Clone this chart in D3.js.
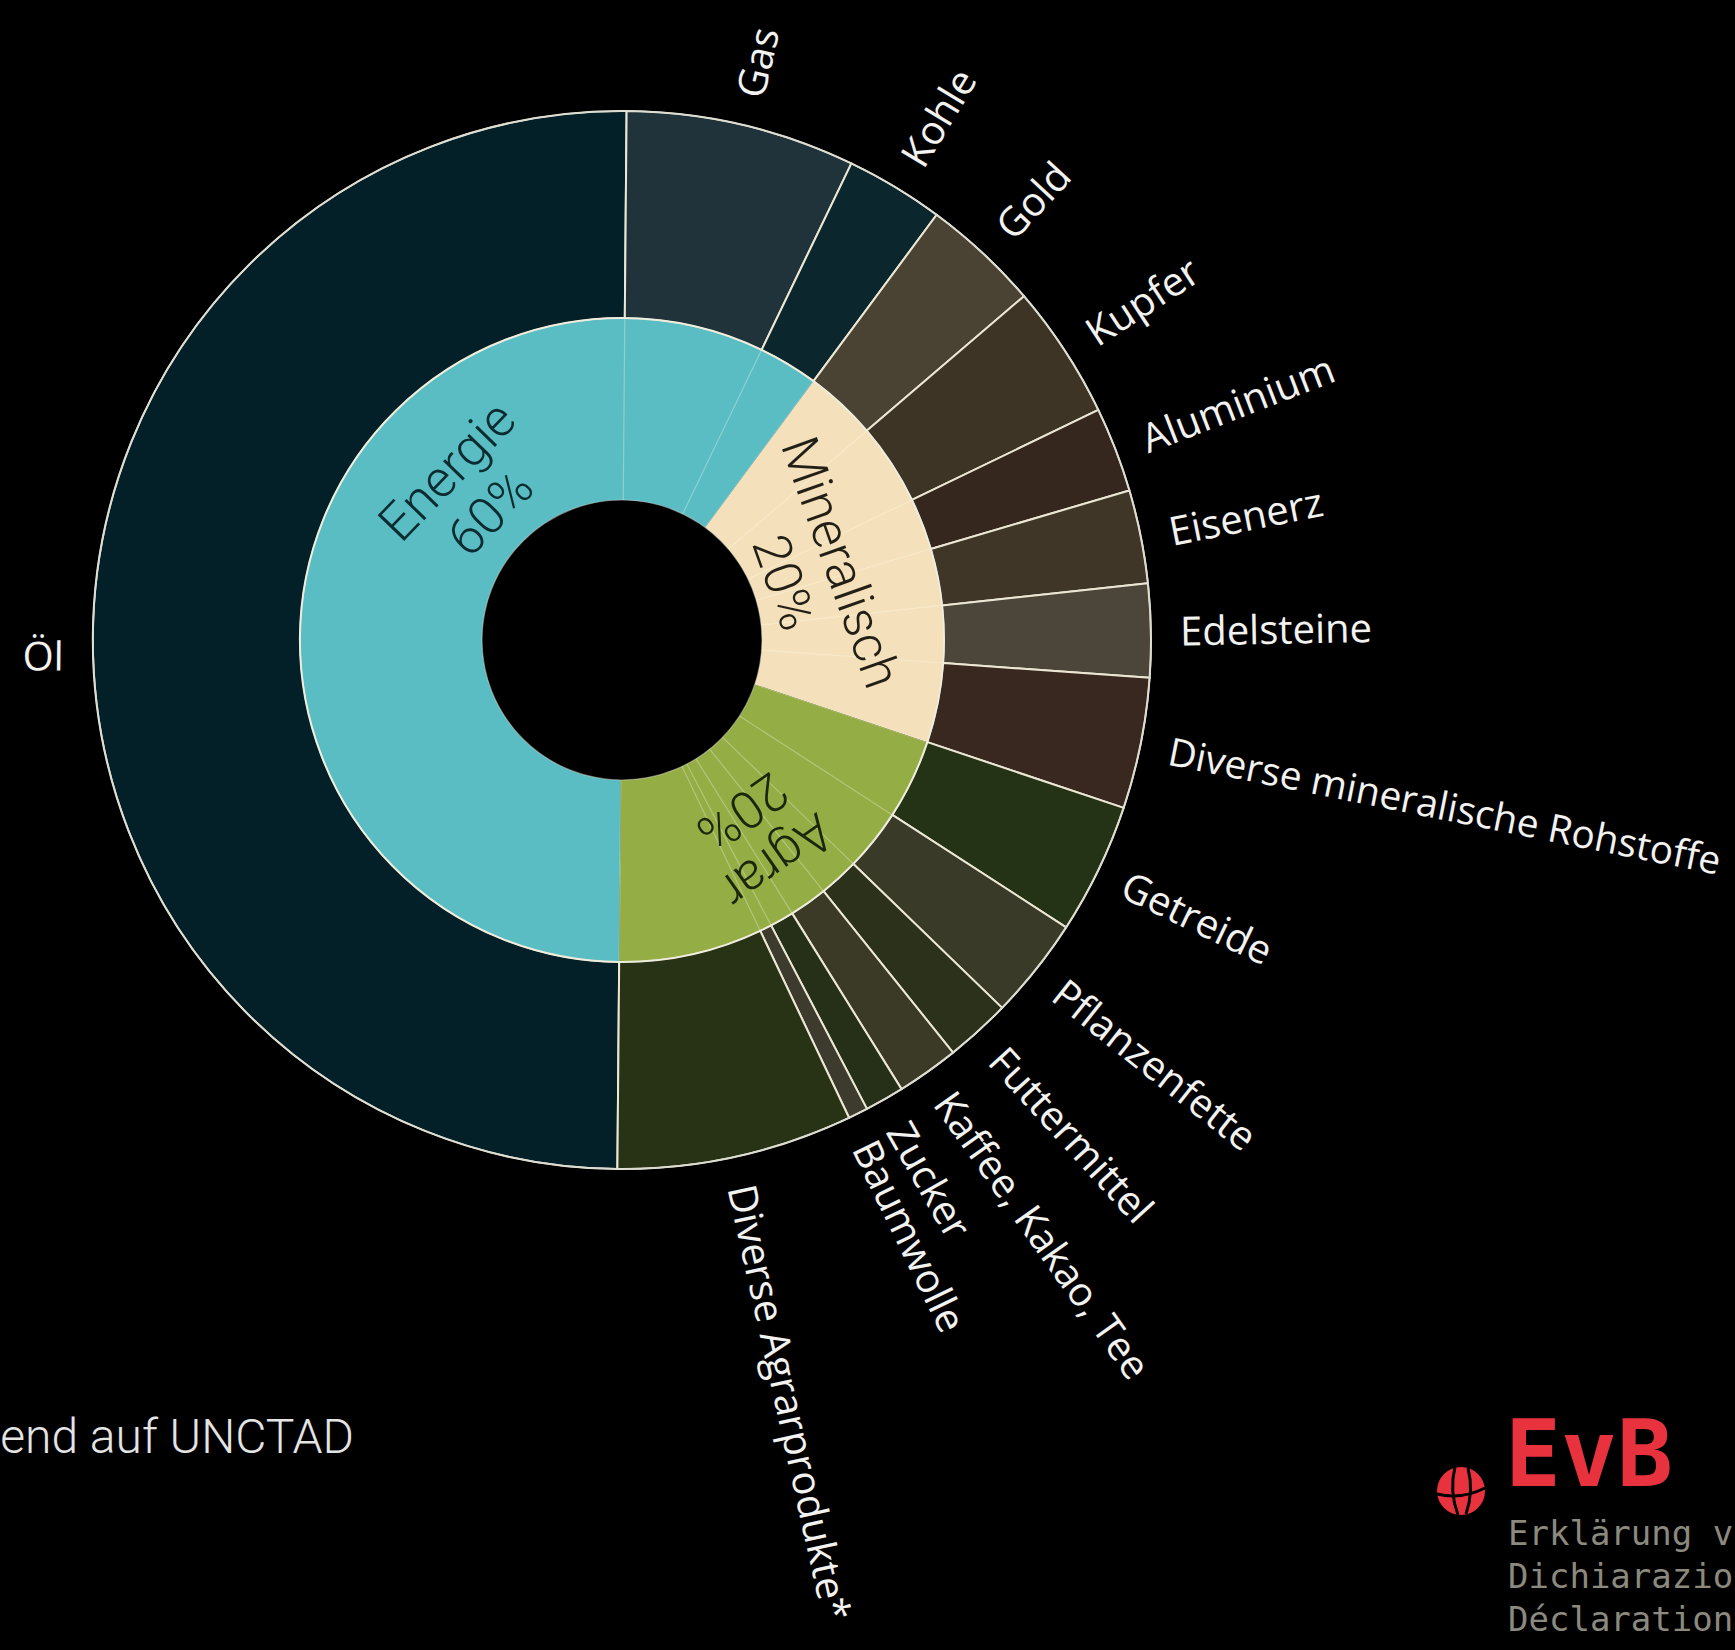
<!DOCTYPE html>
<html>
<head>
<meta charset="utf-8">
<script src="https://cdn.jsdelivr.net/npm/d3@7"></script>
<style>
  html, body { margin: 0; padding: 0; background: #000; }
  svg { display: block; }
</style>
</head>
<body>
<svg id="chart" width="1735" height="1650"></svg>
<script>
// Inner ring: commodity groups, share of commodity exports in %
const groups = ["Energie", "Mineralisch", "Agrar"];
const groupShares = [60, 20, 20];
const groupColors = ["#5bbdc4", "#f4e1bb", "#95ad45"];
const groupTextColors = ["#0a2c30", "#221f17", "#1b260b"];

// Outer ring: single commodities, share in %
const commodities = [
  "Öl", "Gas", "Kohle",
  "Gold", "Kupfer", "Aluminium", "Eisenerz", "Edelsteine", "Diverse mineralische Rohstoffe",
  "Getreide", "Pflanzenfette", "Futtermittel", "Kaffee, Kakao, Tee", "Zucker", "Baumwolle", "Diverse Agrarprodukte*"
];
const commodityGroup = [0, 0, 0, 1, 1, 1, 1, 1, 1, 2, 2, 2, 2, 2, 2, 2];
const commodityShares = [50, 7, 3, 3.6, 4.1, 2.6, 2.85, 2.85, 4.0, 4.0, 3.1, 2.0, 1.9, 1.2, 0.6, 7.2];
const commodityColors = [
  "#031f27", "#20323a", "#0c262d",
  "#4a4333", "#3d3425", "#35271e", "#3f3628", "#4b4639", "#38281f",
  "#243316", "#393a27", "#2b311a", "#3a3a27", "#263018", "#3d3b2e", "#283316"
];

// Source line and logo texts
const sourceText = "end auf UNCTAD";
const logoName = "EvB";
const logoLines = ["Erklärung v", "Dichiarazio", "Déclaration"];

const W = 1735, H = 1650;
const svg = d3.select("#chart");
const cx = 622, cy = 640;
const r0 = 140, r1 = 322, r2 = 529;
const start = 180.5 * Math.PI / 180;

const g = svg.append("g").attr("transform", `translate(${cx},${cy})`);

const groupData = groups.map((name, i) => ({ name, value: groupShares[i], i }));
const commodityData = commodities.map((name, i) => ({
  name, value: commodityShares[i], group: commodityGroup[i], i
}));

const pie = d3.pie().value(d => d.value).sort(null)
  .startAngle(start).endAngle(start + 2 * Math.PI);

const groupArcs = pie(groupData);
const commodityArcs = pie(commodityData);

const innerArc = d3.arc().innerRadius(r0).outerRadius(r1);
const outerArc = d3.arc().innerRadius(r1).outerRadius(r2);

// inner ring
g.selectAll("path.group").data(groupArcs).join("path")
  .attr("class", "group")
  .attr("d", innerArc)
  .attr("fill", d => groupColors[d.data.i]);

// faint subdivision lines inside the inner ring
g.selectAll("line.sub").data(commodityArcs).join("line")
  .attr("class", "sub")
  .attr("x1", d => Math.sin(d.startAngle) * r0)
  .attr("y1", d => -Math.cos(d.startAngle) * r0)
  .attr("x2", d => Math.sin(d.startAngle) * r1)
  .attr("y2", d => -Math.cos(d.startAngle) * r1)
  .attr("stroke", "rgba(255,255,240,0.3)")
  .attr("stroke-width", 1.2);

// outer ring
g.selectAll("path.commodity").data(commodityArcs).join("path")
  .attr("class", "commodity")
  .attr("d", outerArc)
  .attr("fill", d => commodityColors[d.data.i])
  .attr("stroke", "#ebe7d4")
  .attr("stroke-width", 2)
  .attr("stroke-linejoin", "round");

// ring outlines
g.append("circle").attr("r", r2).attr("fill", "none")
  .attr("stroke", "#dcdcd2").attr("stroke-width", 1.6);
g.append("circle").attr("r", r1).attr("fill", "none")
  .attr("stroke", "rgba(240,240,225,0.75)").attr("stroke-width", 1.4);
g.append("circle").attr("r", r0).attr("fill", "none")
  .attr("stroke", "rgba(230,230,220,0.45)").attr("stroke-width", 1.2);

// group labels, written along the ring
const groupLabelPlace = [
  { angle: -46, radius: 213 },
  { angle: 70.5, radius: 202 },
  { angle: 145, radius: 240 }
];
const lineGap = 60;
groupArcs.forEach(d => {
  const p = groupLabelPlace[d.data.i];
  const a = p.angle * Math.PI / 180;
  const t = g.append("text")
    .attr("transform", `translate(${Math.sin(a) * p.radius},${-Math.cos(a) * p.radius}) rotate(${p.angle})`)
    .attr("text-anchor", "middle")
    .attr("font-family", "Roboto, Lato, 'Liberation Sans', sans-serif")
    .attr("font-weight", 300)
    .attr("font-size", 52)
    .attr("fill", groupTextColors[d.data.i]);
  t.append("tspan").attr("x", 0).attr("y", -lineGap / 2).attr("dominant-baseline", "central").text(d.data.name);
  t.append("tspan").attr("x", 0).attr("y", lineGap / 2).attr("dominant-baseline", "central").text(d.data.value + "%");
});

// commodity labels, radial outside the ring; neighbouring labels are
// spread to a minimum angular distance so they do not overlap
const labelR = 558;
const labelSize = 40;
const minGap = 3.9 * Math.PI / 180;
const labelAngles = commodityArcs.map(d => (d.startAngle + d.endAngle) / 2);
for (let k = 1; k < labelAngles.length; k++) {
  if (labelAngles[k] - labelAngles[k - 1] < minGap) labelAngles[k] = labelAngles[k - 1] + minGap;
}
const labels = g.selectAll("text.clabel").data(commodityArcs).join("text")
  .attr("class", "clabel")
  .attr("transform", (d, k) => {
    const mid = labelAngles[k];
    const deg = mid * 180 / Math.PI - 90;
    const left = Math.sin(mid) < 0;
    return `rotate(${deg}) translate(${labelR},0)` + (left ? " rotate(180)" : "");
  })
  .attr("text-anchor", (d, k) => Math.sin(labelAngles[k]) < 0 ? "end" : "start")
  .attr("dominant-baseline", "central")
  .attr("dy", (d, k) => Math.sin(labelAngles[k]) < 0 ? "0.5em" : 0)
  .attr("font-family", "'Open Sans', 'Noto Sans', sans-serif")
  .attr("font-size", labelSize)
  .attr("fill", "#f2f2f0")
  .text(d => d.data.name);

// shrink any label that would run past the right edge of the page
labels.each(function (d, k) {
  const mid = labelAngles[k];
  if (Math.sin(mid) <= 0) return;
  const len = this.getComputedTextLength();
  const dirX = Math.cos(mid - Math.PI / 2);
  const x0 = cx + Math.sin(mid) * labelR;
  const room = (W - 14 - x0) / Math.max(dirX, 0.01);
  if (len > room) d3.select(this).attr("font-size", labelSize * room / len);
});

// source line
svg.append("text")
  .attr("x", 354).attr("y", 1453)
  .attr("text-anchor", "end")
  .attr("font-family", "Roboto, 'Liberation Sans', sans-serif")
  .attr("font-weight", 300)
  .attr("font-size", 48)
  .attr("fill", "#e4e4e4")
  .text(sourceText);

// logo
const logo = svg.append("g");
logo.append("circle").attr("cx", 1461).attr("cy", 1491).attr("r", 24).attr("fill", "#e8333f");
logo.append("path").attr("d", "M1455,1467 Q1449,1491 1458,1515")
  .attr("fill", "none").attr("stroke", "#000").attr("stroke-width", 3);
logo.append("path").attr("d", "M1468,1468 Q1474,1491 1466,1514")
  .attr("fill", "none").attr("stroke", "#000").attr("stroke-width", 3);
logo.append("path").attr("d", "M1437,1494 Q1461,1500 1485,1488")
  .attr("fill", "none").attr("stroke", "#000").attr("stroke-width", 3);
logo.append("text")
  .attr("x", 1505).attr("y", 1486)
  .attr("font-family", "'DejaVu Sans Mono', monospace")
  .attr("font-weight", "bold")
  .attr("font-size", 93)
  .attr("fill", "#e8333f")
  .text(logoName);
logo.selectAll("text.sub").data(logoLines).join("text")
  .attr("class", "sub")
  .attr("x", 1508)
  .attr("y", (d, i) => 1545 + i * 43)
  .attr("font-family", "'DejaVu Sans Mono', monospace")
  .attr("font-size", 34)
  .attr("fill", "#8c897e")
  .text(d => d);
</script>
</body>
</html>
